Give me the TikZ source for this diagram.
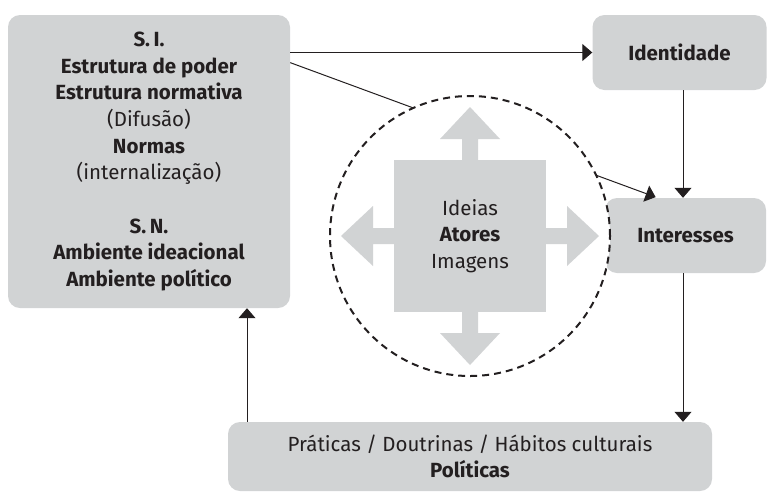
\documentclass[tikz,border=0pt]{standalone}
\usepackage{fontspec}
\setmainfont{Fira Sans}
\usetikzlibrary{arrows.meta,calc,shapes}
\definecolor{boxgray}{RGB}{209,211,212}
\definecolor{ink}{RGB}{35,31,32}
\tikzset{
  box/.style={rectangle, rounded corners=12pt, fill=boxgray, align=center, inner sep=0pt},
  link/.style={draw=ink, line width=1pt, -{Triangle[length=10pt,width=17pt]}},
  ideaarrow/.style={fill=boxgray}
}

\begin{document}
\begin{tikzpicture}[x=1pt,y=-1pt,font=\fontsize{20.5}{26.7}\selectfont,text=ink]
\useasboundingbox (0,0) rectangle (767,491);
\clip (0,0) rectangle (767,491);
\node [box, minimum width=282pt, minimum height=293pt] (si) at (149,161.5)
  {\textbf{S.\,I.}\\ \textbf{Estrutura de poder}\\ \textbf{Estrutura normativa}\\ (Difusão)\\
   \textbf{Normas}\\ (internalização)\\[26.7pt] \textbf{S.\,N.}\\ \textbf{Ambiente ideacional}\\
   \textbf{Ambiente político}};
\node [box, minimum width=174pt, minimum height=75pt] (ident) at (679.5,52.5) {\textbf{Identidade}};
\node [box, minimum width=161pt, minimum height=75pt] (inter) at (685.5,235.5) {\textbf{Interesses}};
\node [box, minimum width=484pt, minimum height=69pt] (prat) at (470,456.5)
  {Práticas / Doutrinas / Hábitos culturais\\ \textbf{Políticas}};
\coordinate (col) at (683,0);
\coordinate (back) at (247,0);
% ligacoes
\draw [link] (si.east |- ident.west) -- (ident.west);
\draw [link, shorten >=2pt] (si.35) -- ($(inter.north)+(-28,0)$);
\draw [link] (ident.south -| col) -- (inter.north -| col);
\draw [link] (inter.south -| col) -- (prat.north -| col);
\draw [link] (prat.north -| back) -- (si.south -| back);
% circulo das ideias
\node [circle, minimum size=280pt, fill=white, draw=ink, line width=2pt, dash pattern=on 7pt off 5pt] (orbit) at (470,236) {};
\foreach \ang in {0,90,180,270}
  \fill [ideaarrow, shift={(orbit.center)}, rotate=\ang] (70,-8) -- (97,-8) -- (97,-30) -- (129,0) -- (97,30) -- (97,8) -- (70,8) -- cycle;
\node [rectangle, fill=boxgray, minimum size=152pt, align=center] (core) at (orbit.center)
  {Ideias\\ \textbf{Atores}\\ Imagens};
\end{tikzpicture}
\end{document}
